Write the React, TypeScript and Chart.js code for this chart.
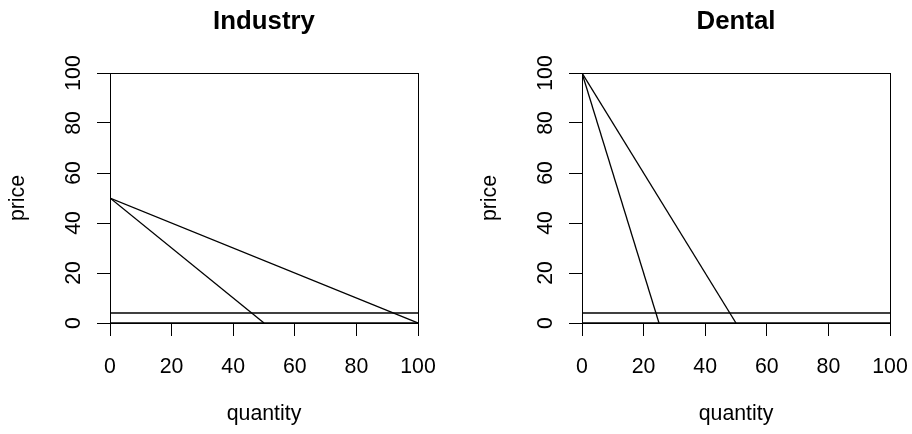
import React, { useEffect, useRef } from "react";
import { Chart, registerables } from "chart.js";

Chart.register(...registerables);

// ---- data ----
const xTicks = [0, 20, 40, 60, 80, 100];
const yTicks = [0, 20, 40, 60, 80, 100];
const xAxisLabel = "quantity";
const yAxisLabel = "price";

const industryTitle = "Industry";
const industryDemandAQty = [0, 50];
const industryDemandAPrice = [50, 0];
const industryDemandBQty = [0, 100];
const industryDemandBPrice = [50, 0];

const dentalTitle = "Dental";
const dentalDemandAQty = [0, 25];
const dentalDemandAPrice = [100, 0];
const dentalDemandBQty = [0, 50];
const dentalDemandBPrice = [100, 0];

const costQty = [0, 10, 20, 30, 40, 50, 60, 70, 80, 90, 100];
const costPrice = [4, 4, 4, 4, 4, 4, 4, 4, 4, 4, 4];
const zeroQty = [0, 100];
const zeroPrice = [0, 0];

const FONT = '"Liberation Sans", Arial, Helvetica, sans-serif';

type Series = { qty: number[]; price: number[] };

const rPlotPlugin = {
  id: "rplot",
  afterDraw(chart: any, _args: any, opts: any) {
    const { ctx, chartArea: a, scales } = chart;
    const xs = scales.x;
    const ys = scales.y;
    ctx.save();
    ctx.strokeStyle = "#000";
    ctx.lineWidth = 1;
    ctx.strokeRect(a.left + 0.5, a.top + 0.5, a.right - a.left, a.bottom - a.top);
    ctx.fillStyle = "#000";
    ctx.textAlign = "center";
    ctx.textBaseline = "alphabetic";
    ctx.font = `bold 25.8px ${FONT}`;
    ctx.fillText(opts.title, (a.left + a.right) / 2, 28.5);
    ctx.font = `21.3px ${FONT}`;
    for (const v of xTicks) ctx.fillText(String(v), xs.getPixelForValue(v), 373);
    ctx.fillText(xAxisLabel, (a.left + a.right) / 2, 419.5);
    for (const v of yTicks) {
      ctx.save();
      ctx.translate(a.left - 30, ys.getPixelForValue(v));
      ctx.rotate(-Math.PI / 2);
      ctx.fillText(String(v), 0, 0);
      ctx.restore();
    }
    ctx.save();
    ctx.translate(a.left - 86, (a.top + a.bottom) / 2);
    ctx.rotate(-Math.PI / 2);
    ctx.fillText(yAxisLabel, 0, 0);
    ctx.restore();
    ctx.restore();
  },
};

function Panel(props: { title: string; series: Series[]; axisWidth: number; rightPad: number; left: number }) {
  const ref = useRef<HTMLCanvasElement | null>(null);
  useEffect(() => {
    if (!ref.current) return;
    const axisCommon = (afterFit: (s: any) => void) => ({
      type: "linear" as const,
      min: 0,
      max: 100,
      ticks: { stepSize: 20, display: false },
      grid: { drawOnChartArea: false, drawTicks: true, tickLength: 13, color: "#000", lineWidth: 1 },
      border: { display: false },
      afterFit,
    });
    const chart = new Chart(ref.current, {
      type: "line",
      data: {
        datasets: props.series.map((s) => ({
          data: s.qty.map((q, i) => ({ x: q, y: s.price[i] })),
          borderColor: "#000",
          borderWidth: 1.3,
          pointRadius: 0,
          fill: false,
          tension: 0,
        })),
      },
      options: {
        responsive: false,
        animation: false,
        devicePixelRatio: 1,
        layout: { padding: { top: 73, right: props.rightPad, bottom: 0, left: 0 } },
        plugins: {
          legend: { display: false },
          tooltip: { enabled: false },
          rplot: { title: props.title },
        } as any,
        scales: {
          x: axisCommon((s: any) => {
            s.height = 111;
          }),
          y: axisCommon((s: any) => {
            s.width = props.axisWidth;
          }),
        },
      },
      plugins: [rPlotPlugin],
    } as any);
    return () => chart.destroy();
  }, []);
  return (
    <canvas
      ref={ref}
      width={456}
      height={434}
      style={{ position: "absolute", left: props.left, top: 0, width: 456, height: 434, display: "block" }}
    />
  );
}

export default function App() {
  const industrySeries: Series[] = [
    { qty: industryDemandAQty, price: industryDemandAPrice },
    { qty: industryDemandBQty, price: industryDemandBPrice },
    { qty: costQty, price: costPrice },
    { qty: zeroQty, price: zeroPrice },
  ];
  const dentalSeries: Series[] = [
    { qty: dentalDemandAQty, price: dentalDemandAPrice },
    { qty: dentalDemandBQty, price: dentalDemandBPrice },
    { qty: costQty, price: costPrice },
    { qty: zeroQty, price: zeroPrice },
  ];
  return (
    <div style={{ position: "fixed", left: 0, top: 0, width: 912, height: 434, background: "#fff" }}>
      <Panel title={industryTitle} series={industrySeries} axisWidth={110} rightPad={38} left={0} />
      <Panel title={dentalTitle} series={dentalSeries} axisWidth={126} rightPad={22} left={456} />
    </div>
  );
}
